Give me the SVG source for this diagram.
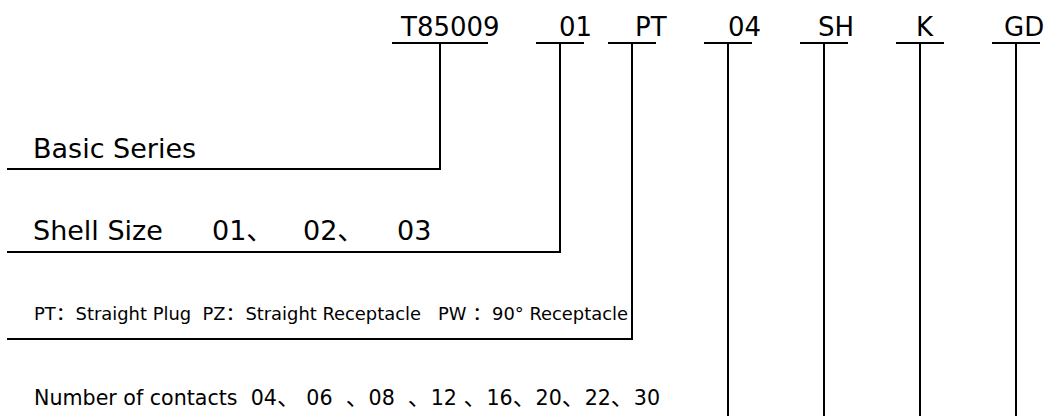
<svg xmlns="http://www.w3.org/2000/svg" width="1050" height="416" viewBox="0 0 1050 416">
<style>
.t{font-family:"DejaVu Sans","Noto Sans CJK SC",sans-serif;fill:#000}
.c{font-family:"DejaVu Sans Condensed","DejaVu Sans","Noto Sans CJK SC",sans-serif;fill:#000}
.code{font-size:26px}
.big{font-size:27px}
.mid{font-size:22px}
.sm{font-size:18px}
.ln{stroke:#000;stroke-width:2;fill:none}
</style>
<rect width="1050" height="416" fill="#fff"/>
<g id="codes">
<g id="code-T85009"><text class="t code" x="401" y="36">T85009</text></g>
<g id="code-01"><text class="t code" x="559" y="36">01</text></g>
<g id="code-PT"><text class="t code" x="635" y="36">PT</text></g>
<g id="code-04"><text class="t code" x="728" y="36">04</text></g>
<g id="code-SH"><text class="t code" x="818" y="36">SH</text></g>
<g id="code-K"><text class="t code" x="916" y="36">K</text></g>
<g id="code-GD"><text class="t code" x="1004" y="36">GD</text></g>
</g>
<g id="labels">
<g id="basic-series"><text class="t big" x="33" y="158">Basic Series</text></g>
<g id="shell-size"><text class="t big" y="240"><tspan x="33">Shell Size</tspan><tspan x="212">01、</tspan><tspan x="303">02、</tspan><tspan x="397">03</tspan></text></g>
<g id="type"><text class="c sm" x="34" y="320" textLength="594" lengthAdjust="spacingAndGlyphs" xml:space="preserve">PT：Straight Plug  PZ：Straight Receptacle   PW ：90° Receptacle</text></g>
<g id="contacts"><text class="c mid" x="34" y="405" textLength="626" lengthAdjust="spacingAndGlyphs" xml:space="preserve">Number of contacts  04、 06  、08  、12 、16、20、22、30</text></g>
</g>
<g id="connectors" class="ln">
<path d="M392 43H488M440 43V169H7"/>
<path d="M536 43H584M560 43V252H7"/>
<path d="M608 43H656M632 43V339H7"/>
<path d="M704 43H752M728 43V416"/>
<path d="M800 43H848M824 43V416"/>
<path d="M896 43H944M920 43V416"/>
<path d="M992 43H1040M1016 43V416"/>
</g>
</svg>
